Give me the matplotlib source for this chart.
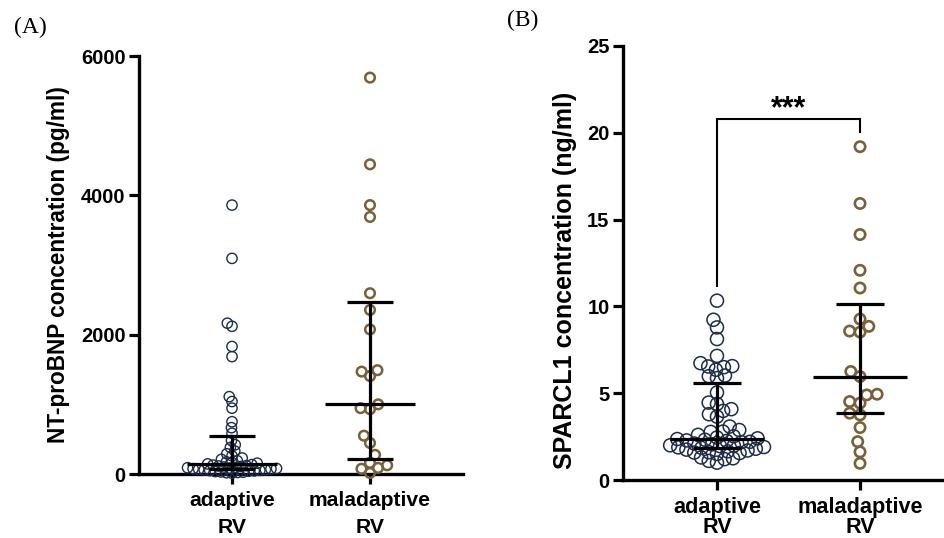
import numpy as np
import matplotlib
matplotlib.use("Agg")
import matplotlib.pyplot as plt

# ---------------- data ----------------
groups = ["adaptive\nRV", "maladaptive\nRV"]

ntprobnp_adaptive = [3860, 3095, 2165, 2120, 1830, 1685, 1110, 1040, 945, 750, 665, 585,
                     480, 420, 380, 330, 290, 260, 230, 210, 190, 175, 165, 155,
                     145, 135, 128, 120, 115, 108, 100, 95, 90, 85, 80, 76, 73,
                     68, 62, 58, 52, 48, 44, 40, 35, 30, 26, 22, 18, 12]
ntprobnp_maladaptive = [5690, 4445, 3860, 3690, 2595, 2355, 2075, 1490, 1470, 1405,
                        1000, 945, 930, 550, 445, 275, 160, 125, 88, 75, 15]
ntprobnp_median = [150, 1004]
ntprobnp_q1 = [72, 215]
ntprobnp_q3 = [545, 2464]

sparcl1_adaptive = [10.33, 9.23, 8.79, 8.12, 7.15, 6.73, 6.56, 6.54, 6.5, 6.35, 6.02, 5.98,
                    5.87, 5.04, 4.46, 4.38, 4.08, 3.98, 3.79, 3.65, 3.08, 2.88, 2.79, 2.77,
                    2.6, 2.52, 2.45, 2.4, 2.36, 2.32, 2.28, 2.25, 2.2, 2.18, 2.1, 2.05,
                    2.0, 1.98, 1.95, 1.9, 1.88, 1.85, 1.8, 1.75, 1.7, 1.65, 1.6, 1.58,
                    1.55, 1.5, 1.3, 1.25, 1.2, 1.1, 1.0]
sparcl1_maladaptive = [19.2, 15.93, 14.14, 12.08, 11.06, 9.27, 8.85, 8.58, 8.52, 6.25,
                       5.96, 4.94, 4.9, 4.52, 4.43, 3.85, 3.75, 3.02, 2.21, 1.62, 0.96]
sparcl1_median = [2.35, 5.92]
sparcl1_q1 = [1.83, 3.85]
sparcl1_q3 = [5.58, 10.14]

sig_text = "***"
sig_levels = [11.2, 20.8, 20.04]   # left leg bottom, bracket height, right leg bottom

# ---------------- style ----------------
NAVY = "#1e2d4c"
BROWN = "#7a6139"
FONT = "Liberation Sans"
W, H = 945, 538

fig = plt.figure(figsize=(W / 100, H / 100), dpi=100)
fig.patch.set_facecolor("white")


def px_rect(left, right, top, bottom):
    return [left / W, 1 - bottom / H, (right - left) / W, (bottom - top) / H]


def style_axes(ax, ticksize):
    for s in ("top", "right"):
        ax.spines[s].set_visible(False)
    for s in ("left", "bottom"):
        ax.spines[s].set_linewidth(2.4)
        ax.spines[s].set_capstyle("projecting")
    ax.tick_params(axis="both", length=7.2, width=2.3, direction="out", color="black")
    ax.tick_params(axis="y", pad=2.5)
    for lab in ax.get_yticklabels():
        lab.set_fontfamily(FONT)
        lab.set_fontweight("bold")
        lab.set_fontsize(ticksize)


def swarm(ax, xc, values, d):
    vals = np.asarray(values, float)
    pts = ax.transData.transform(np.column_stack([np.full(len(vals), xc), vals]))
    ys = pts[:, 1]
    x0 = pts[0, 0]
    order = np.argsort(ys)
    placed = []
    offs = np.zeros(len(vals))
    for i in order:
        y = ys[i]
        near = [(ox, oy) for ox, oy in placed if abs(oy - y) < d]
        cands = [0.0]
        for ox, oy in near:
            dx = np.sqrt(max(d * d - (oy - y) ** 2, 0))
            cands += [ox + dx, ox - dx]
        cands = sorted(cands, key=lambda c: (abs(c), c))
        chosen = cands[-1]
        for c in cands:
            if all((c - ox) ** 2 + (y - oy) ** 2 >= d * d - 1e-6 for ox, oy in near):
                chosen = c
                break
        placed.append((chosen, y))
        offs[i] = chosen
    xs = ax.transData.inverted().transform(np.column_stack([x0 + offs, ys]))[:, 0]
    return xs, vals


def summary(ax, med, q1, q3, mhw, chw):
    for i in range(len(med)):
        kw = dict(color="black", lw=2.3, solid_capstyle="butt", zorder=5, clip_on=False)
        ax.plot([i, i], [q1[i], q3[i]], **kw)
        ax.plot([i - chw, i + chw], [q1[i], q1[i]], **kw)
        ax.plot([i - chw, i + chw], [q3[i], q3[i]], **kw)
        ax.plot([i - mhw, i + mhw], [med[i], med[i]], **kw)


# ---------------- panel A ----------------
axA = fig.add_axes(px_rect(139, 463, 56, 474))
axA.set_xlim(-0.674, 1.674)
axA.set_ylim(0, 6000)
axA.set_yticks([0, 2000, 4000, 6000])
axA.set_xticks([0, 1])
axA.set_xticklabels(groups, fontfamily=FONT, fontweight="bold", fontsize=15.2,
                    linespacing=1.55)
axA.tick_params(axis="x", pad=5)
style_axes(axA, 14.5)

xs, ys = swarm(axA, 0, ntprobnp_adaptive, 5.6)
axA.scatter(xs, ys, s=55, facecolors="none", edgecolors=NAVY, linewidths=1.0,
            zorder=3, clip_on=False)
xs, ys = swarm(axA, 1, ntprobnp_maladaptive, 9.5)
axA.scatter(xs, ys, s=48, facecolors="none", edgecolors=BROWN, linewidths=1.8,
            zorder=3, clip_on=False)
summary(axA, ntprobnp_median, ntprobnp_q1, ntprobnp_q3, 0.326, 0.167)

fig.text(59 / W, 1 - 265 / H, "NT-proBNP concentration (pg/ml)", rotation=90,
         ha="center", va="center", fontfamily=FONT, fontweight="bold", fontsize=16.3)
fig.text(30 / W, 1 - 27 / H, "(A)", ha="center", va="center",
         fontfamily="Liberation Serif", fontsize=17)

# ---------------- panel B ----------------
axB = fig.add_axes(px_rect(623, 945, 46, 480))
axB.set_xlim(-0.657, 1.594)
axB.set_ylim(0, 25)
axB.set_yticks([0, 5, 10, 15, 20, 25])
axB.set_xticks([0, 1])
axB.set_xticklabels(groups, fontfamily=FONT, fontweight="bold", fontsize=15.6,
                    linespacing=0.95)
axB.tick_params(axis="x", pad=5)
style_axes(axB, 14.5)

xs, ys = swarm(axB, 0, sparcl1_adaptive, 8.4)
axB.scatter(xs, ys, s=88, facecolors="none", edgecolors=NAVY, linewidths=1.1,
            zorder=3, clip_on=False)
xs, ys = swarm(axB, 1, sparcl1_maladaptive, 10.5)
axB.scatter(xs, ys, s=55, facecolors="none", edgecolors=BROWN, linewidths=1.9,
            zorder=3, clip_on=False)
summary(axB, sparcl1_median, sparcl1_q1, sparcl1_q3, 0.33, 0.168)

axB.plot([0, 0, 1, 1], [sig_levels[0], sig_levels[1], sig_levels[1], sig_levels[2]],
         color="black", lw=1.5, solid_joinstyle="miter")
axB.text(0.5, sig_levels[1] + 0.1, sig_text, ha="center", va="baseline",
         fontfamily=FONT, fontweight="bold", fontsize=22)

fig.text(565 / W, 1 - 280 / H, "SPARCL1 concentration (ng/ml)", rotation=90,
         ha="center", va="center", fontfamily=FONT, fontweight="bold", fontsize=18)
fig.text(523 / W, 1 - 20 / H, "(B)", ha="center", va="center",
         fontfamily="Liberation Serif", fontsize=17)

fig.savefig("out.png", dpi=100, facecolor="white")
